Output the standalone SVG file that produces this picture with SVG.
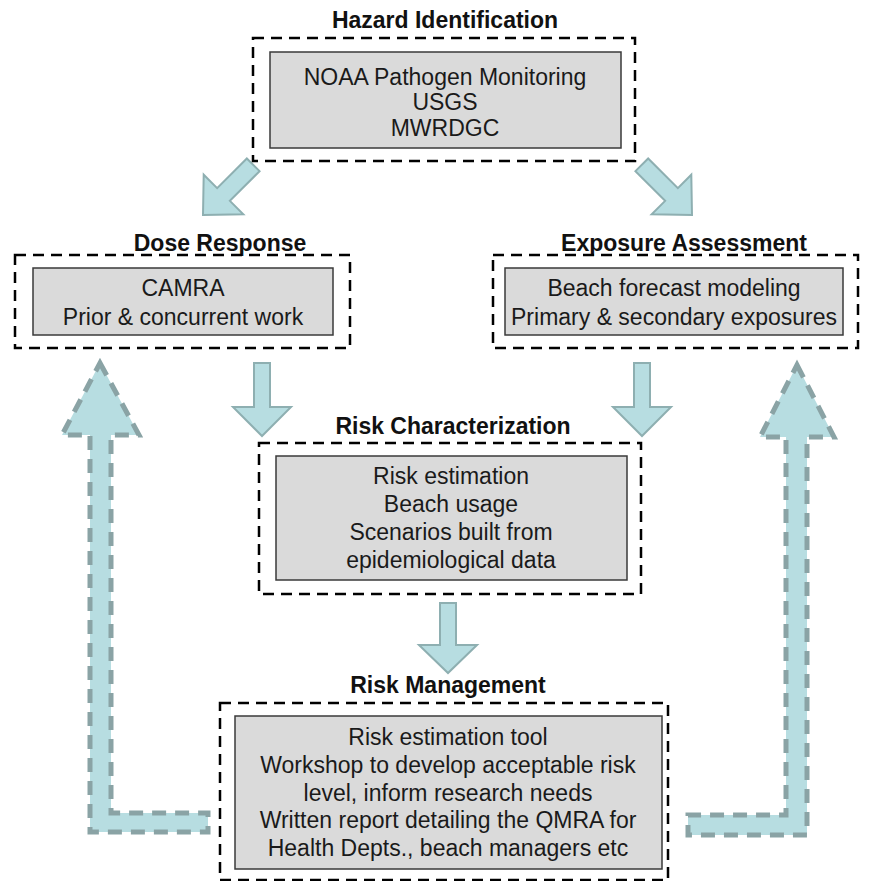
<svg xmlns="http://www.w3.org/2000/svg" width="874" height="881" viewBox="0 0 874 881">
<style>
.frame{fill:none;stroke:#000;stroke-width:2.5;stroke-dasharray:11 7}
.card{fill:#DADADA;stroke:#3a3a3a;stroke-width:1.5}
.title{font-family:"Liberation Sans",Arial,sans-serif;font-weight:bold;font-size:23px;fill:#111;text-anchor:middle}
.body{font-family:"Liberation Sans",Arial,sans-serif;font-size:23px;fill:#1a1a1a;text-anchor:middle}
.arr{fill:#B7DDE1;stroke:#8EAFB1;stroke-width:2;stroke-linejoin:miter}
.big{fill:#B7DDE1;stroke:#8AA3A5;stroke-width:5;stroke-dasharray:14 9}
</style>
<rect width="874" height="881" fill="#fff"/>
<g id="connectors">
<path class="arr" transform="translate(203,215) rotate(135)" d="M0,0 L-29,-28 L-29,-9 L-71,-9 L-71,9 L-29,9 L-29,28 Z"/>
<path class="arr" transform="translate(692,215) rotate(45)" d="M0,0 L-29,-28 L-29,-9 L-71,-9 L-71,9 L-29,9 L-29,28 Z"/>
<path class="arr" d="M254,363 L270,363 L270,407 L291,407 L262,436 L233,407 L254,407 Z"/>
<path class="arr" d="M634,363 L650,363 L650,407 L671,407 L642,436 L613,407 L634,407 Z"/>
<path class="arr" d="M440,603 L456,603 L456,645 L477,645 L448,673 L419,645 L440,645 Z"/>
<path class="big" d="M100,363 L139,435 L111,435 L111,813 L208,813 L208,832 L90,832 L90,435 L62,435 Z"/>
<path class="big" d="M797,365 L834,437 L807,437 L807,835 L688,835 L688,815 L786,815 L786,437 L760,437 Z"/>
</g>
<g id="hazard">
<text class="title" x="445" y="28">Hazard Identification</text>
<rect class="frame" x="253" y="38" width="382" height="123"/>
<rect class="card" x="270" y="52" width="351" height="96"/>
<text class="body" x="445" y="85">NOAA Pathogen Monitoring</text>
<text class="body" x="445" y="110">USGS</text>
<text class="body" x="445" y="136">MWRDGC</text>
</g>
<g id="dose">
<text class="title" x="220" y="251">Dose Response</text>
<rect class="frame" x="15" y="255" width="335" height="93"/>
<rect class="card" x="33" y="268" width="300" height="67"/>
<text class="body" x="183" y="296">CAMRA</text>
<text class="body" x="183" y="325">Prior &amp; concurrent work</text>
</g>
<g id="exposure">
<text class="title" x="684" y="251">Exposure Assessment</text>
<rect class="frame" x="493" y="255" width="365" height="93"/>
<rect class="card" x="505" y="268" width="338" height="67"/>
<text class="body" x="674" y="296">Beach forecast modeling</text>
<text class="body" x="674" y="325">Primary &amp; secondary exposures</text>
</g>
<g id="characterization">
<text class="title" x="453" y="434">Risk Characterization</text>
<rect class="frame" x="259" y="443" width="382" height="151"/>
<rect class="card" x="276" y="456" width="351" height="124"/>
<text class="body" x="451" y="484">Risk estimation</text>
<text class="body" x="451" y="512">Beach usage</text>
<text class="body" x="451" y="540">Scenarios built from</text>
<text class="body" x="451" y="568">epidemiological data</text>
</g>
<g id="management">
<text class="title" x="448" y="693">Risk Management</text>
<rect class="frame" x="220" y="703" width="448" height="177"/>
<rect class="card" x="235" y="716" width="427" height="153"/>
<text class="body" x="448" y="745">Risk estimation tool</text>
<text class="body" x="448" y="773">Workshop to develop acceptable risk</text>
<text class="body" x="448" y="801">level, inform research needs</text>
<text class="body" x="448" y="828">Written report detailing the QMRA for</text>
<text class="body" x="448" y="856">Health Depts., beach managers etc</text>
</g>
</svg>
